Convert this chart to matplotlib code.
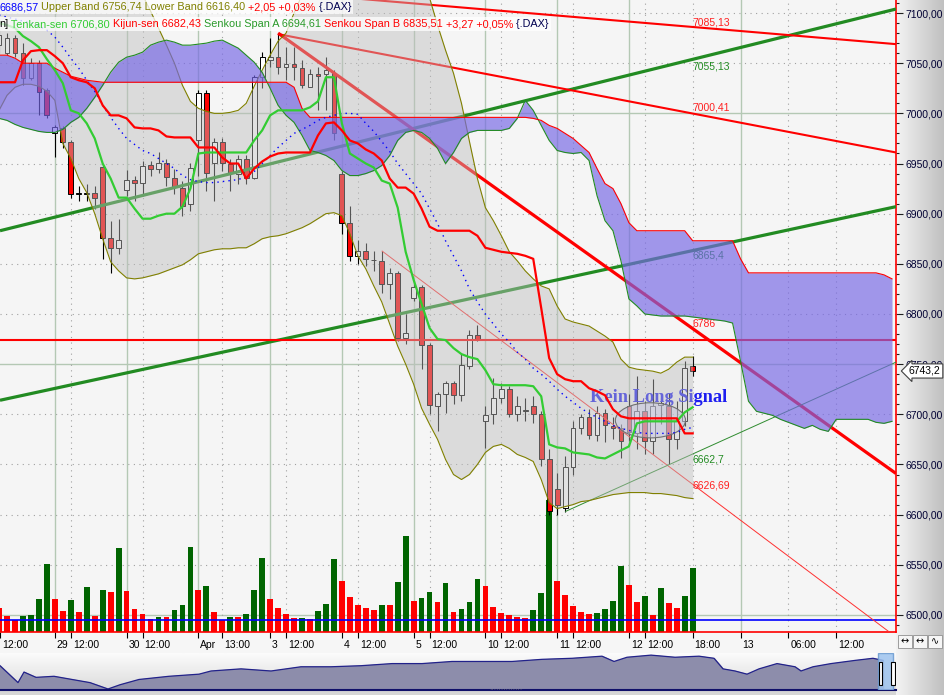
import numpy as np
import matplotlib
matplotlib.use("Agg")
import matplotlib.pyplot as plt
from matplotlib.patches import Ellipse, Rectangle
from matplotlib.colors import LinearSegmentedColormap
from matplotlib.transforms import blended_transform_factory, ScaledTranslation
from matplotlib.offsetbox import TextArea, HPacker, AnchoredOffsetbox

plt.rcParams["font.family"] = ["Liberation Sans", "DejaVu Sans"]

# ---- DAX Stundenkerzen, Index -1 .. 86 (9 Kerzen pro Tag) ----
idx = np.arange(-1, 87)
opens = [7068, 7060, 7075, 7060, 7035, 7050, 7023, 6980, 6985, 6971, 6920, 6920, 6921, 6947, 6876, 6866,
         6924, 6934, 6931, 6949, 6945, 6951, 6936, 6926, 6910, 6973, 7020, 6951, 6971, 6950, 6940, 6955,
         6936, 7036, 7053, 7056, 7046, 7049, 7045, 7026, 7039, 7039, 7040, 6940, 6891, 6858, 6863, 6854,
         6853, 6830, 6841, 6776, 6816, 6827, 6769, 6708, 6720, 6731, 6719, 6748, 6779, 6693, 6700, 6716,
         6725, 6700, 6703, 6708, 6700, 6655, 6626, 6607, 6647, 6686, 6697, 6679, 6701, 6688, 6686, 6708,
         6681, 6703, 6673, 6709, 6708, 6675, 6693, 6748]
highs = [7085, 7080, 7078, 7070, 7055, 7053, 7025, 6988, 6987, 6973, 6928, 6930, 6928, 6949, 6893, 6895,
         6944, 6938, 6953, 6953, 6961, 6955, 6945, 6933, 6951, 7023, 7023, 6975, 6975, 6955, 6958, 6958,
         7038, 7061, 7075, 7080, 7066, 7066, 7053, 7044, 7046, 7056, 7043, 6943, 6908, 6874, 6871, 6863,
         6863, 6846, 6843, 6800, 6833, 6829, 6771, 6722, 6733, 6733, 6760, 6784, 6789, 6708, 6736, 6731,
         6728, 6718, 6716, 6718, 6703, 6665, 6641, 6658, 6693, 6700, 6705, 6708, 6705, 6697, 6690, 6720,
         6738, 6713, 6735, 6716, 6721, 6713, 6753, 6758]
lows = [7060, 7058, 7056, 7028, 7033, 6998, 6995, 6956, 6965, 6916, 6913, 6913, 6905, 6855, 6841, 6860,
        6918, 6913, 6918, 6938, 6941, 6928, 6920, 6898, 6903, 6938, 6923, 6913, 6943, 6923, 6930, 6930,
        6935, 7025, 7046, 7039, 7033, 7033, 7025, 7026, 7003, 7003, 6973, 6880, 6853, 6850, 6848, 6843,
        6821, 6815, 6773, 6770, 6813, 6745, 6700, 6683, 6701, 6710, 6713, 6745, 6773, 6666, 6690, 6711,
        6697, 6693, 6693, 6691, 6648, 6600, 6600, 6603, 6640, 6680, 6675, 6673, 6672, 6675, 6656, 6673,
        6665, 6660, 6660, 6690, 6650, 6665, 6688, 6738]
closes = [7078, 7075, 7060, 7035, 7050, 7021, 6998, 6986, 6971, 6920, 6921, 6921, 6916, 6876, 6866, 6874,
          6934, 6931, 6948, 6945, 6951, 6937, 6927, 6908, 6946, 7020, 6941, 6971, 6951, 6941, 6955, 6936,
          7036, 7056, 7056, 7046, 7049, 7046, 7028, 7039, 7037, 7043, 6980, 6891, 6858, 6863, 6855, 6854,
          6830, 6841, 6776, 6781, 6827, 6769, 6709, 6720, 6731, 6719, 6749, 6779, 6775, 6699, 6716, 6725,
          6700, 6708, 6704, 6700, 6655, 6604, 6610, 6647, 6686, 6697, 6679, 6701, 6689, 6686, 6673, 6682,
          6703, 6673, 6708, 6711, 6675, 6693, 6746, 6743]

# volumen (kontrakte) und farbe der balken
volumen = [24, 16, 12, 16, 17, 33, 68, 33, 21, 32, 20, 45, 16, 42, 40, 84, 41, 23, 18, 13, 15, 15, 22, 27,
           85, 42, 46, 20, 12, 15, 15, 18, 42, 74, 33, 24, 18, 14, 14, 13, 21, 28, 73, 51, 35, 27, 24, 22,
           27, 27, 50, 96, 31, 34, 40, 30, 49, 20, 23, 30, 53, 46, 25, 19, 17, 15, 14, 22, 39, 132, 51, 37,
           26, 20, 18, 19, 23, 31, 66, 47, 30, 36, 17, 44, 29, 24, 36, 64]
volumen = [v * 250 for v in volumen]
vol_farbe = "rrrggggrrgrgrgrgrrrrgrgggrgrrgrgggrrrrgrgggrrrrrgrggrggrgrgggrrrrrrgggrrrrrggggrrgrgrrgg"
vol_schnitt = 3000

# Bollinger Baender
bb_oben = [7190, 7180, 7170, 7162, 7158, 7155, 7150, 7150, 7160, 7158, 7155, 7150, 7148, 7145, 7140, 7135,
           7130, 7128, 7118, 7102, 7085, 7068, 7050, 7028, 7012, 7005, 7002, 7000, 7000, 7001, 7003, 7010,
           7027, 7043, 7058, 7072, 7080, 7100, 7118, 7130, 7138, 7143, 7147, 7150, 7150, 7150, 7150, 7150,
           7148, 7146, 7144, 7142, 7140, 7130, 7115, 7088, 7063, 7040, 7010, 6972, 6935, 6906, 6893, 6878,
           6862, 6853, 6843, 6835, 6828, 6825, 6808, 6795, 6792, 6790, 6788, 6783, 6778, 6772, 6755, 6747,
           6745, 6744, 6743, 6741, 6745, 6752, 6757, 6757]
bb_mitte = [7098, 7096, 7094, 7092, 7090, 7087, 7083, 7076, 7066, 7055, 7045, 7033, 7022, 7008, 6996, 6985,
            6975, 6969, 6963, 6960, 6955, 6950, 6945, 6938, 6934, 6932, 6931, 6931, 6932, 6933, 6934, 6937,
            6942, 6950, 6958, 6966, 6973, 6980, 6984, 6988, 6993, 6996, 6998, 7000, 7000, 6999, 6990, 6982,
            6972, 6962, 6950, 6940, 6930, 6920, 6905, 6890, 6873, 6858, 6843, 6825, 6812, 6800, 6790, 6780,
            6772, 6762, 6755, 6746, 6740, 6733, 6725, 6718, 6712, 6706, 6701, 6697, 6693, 6689, 6686, 6684,
            6682, 6681, 6681, 6681, 6681, 6682, 6685, 6687]
bb_unten = [7003, 7018, 7026, 7029, 7029, 7027, 7022, 7013, 6970, 6955, 6935, 6921, 6900, 6875, 6852, 6843,
            6836, 6835, 6836, 6838, 6840, 6843, 6846, 6849, 6854, 6860, 6862, 6864, 6865, 6865, 6866, 6866,
            6870, 6875, 6877, 6878, 6880, 6883, 6886, 6890, 6895, 6900, 6901, 6898, 6880, 6858, 6845, 6828,
            6812, 6790, 6768, 6750, 6730, 6706, 6690, 6675, 6655, 6640, 6635, 6640, 6650, 6662, 6668, 6670,
            6666, 6660, 6657, 6653, 6635, 6612, 6606, 6608, 6610, 6613, 6614, 6616, 6618, 6620, 6621, 6622,
            6622, 6622, 6621, 6621, 6620, 6619, 6617, 6616]

# Ichimoku
tenkan = [7090, 7088, 7085, 7077, 7072, 7066, 7054, 7043, 7030, 7003, 7000, 6990, 6975, 6950, 6935, 6916,
          6916, 6905, 6895, 6895, 6898, 6900, 6900, 6907, 6925, 6960, 6961, 6961, 6961, 6961, 6961, 6961,
          6973, 6983, 6998, 7003, 7003, 7003, 7003, 7006, 7012, 7036, 7036, 6990, 6960, 6955, 6950, 6946,
          6933, 6930, 6906, 6862, 6834, 6810, 6786, 6775, 6774, 6766, 6760, 6757, 6755, 6744, 6730, 6729,
          6729, 6729, 6729, 6728, 6718, 6670, 6667, 6666, 6662, 6661, 6660, 6657, 6656, 6660, 6664, 6668,
          6691, 6693, 6693, 6693, 6693, 6693, 6702, 6707]
kijun = [7031, 7031, 7031, 7053, 7062, 7063, 7063, 7057, 7050, 7036, 7033, 7031, 7025, 7008, 6998, 6998,
         6995, 6986, 6985, 6985, 6983, 6977, 6976, 6976, 6976, 6966, 6966, 6966, 6956, 6950, 6950, 6935,
         6945, 6952, 6957, 6960, 6961, 6961, 6961, 6961, 6978, 6990, 6991, 6983, 6973, 6970, 6964, 6960,
         6953, 6935, 6926, 6926, 6920, 6905, 6887, 6883, 6883, 6883, 6883, 6883, 6878, 6866, 6864, 6862,
         6861, 6860, 6858, 6855, 6806, 6756, 6740, 6735, 6733, 6733, 6726, 6723, 6719, 6705, 6698, 6696,
         6696, 6696, 6696, 6696, 6696, 6696, 6681, 6681]
# senkou spans, 26 perioden nach vorne verschoben (Index -1 .. 111)
senkou_idx = np.arange(-1, 112)
senkou_a = [6995, 6993, 6989, 6986, 6984, 6982, 6981, 6981, 6984, 6991, 6996, 7005, 7016, 7028, 7041, 7051,
            7056, 7058, 7061, 7068, 7071, 7073, 7071, 7068, 7068, 7069, 7070, 7072, 7073, 7069, 7065, 7058,
            7051, 7041, 7025, 7008, 6998, 6991, 6978, 6963, 6961, 6958, 6953, 6943, 6938, 6938, 6940, 6943,
            6948, 6958, 6973, 6981, 6983, 6981, 6975, 6965, 6950, 6961, 6975, 6981, 6983, 6983, 6983, 6983,
            6985, 6995, 7013, 7003, 6988, 6973, 6963, 6961, 6960, 6961, 6953, 6918, 6893, 6883, 6853, 6815,
            6808, 6800, 6799, 6798, 6798, 6798, 6798, 6797, 6796, 6795, 6794, 6793, 6791, 6753, 6713, 6703,
            6701, 6699, 6695, 6692, 6689, 6686, 6689, 6685, 6683, 6695, 6695, 6695, 6695, 6695, 6692, 6691,
            6693]
senkou_b = ([7058, 7058, 7055, 7050, 7050, 7050, 7050, 7045, 7041, 7037, 7035, 7033, 7032] + [7031] * 24 +
            [7026, 7005] + [6996] * 28 +
            [6995, 6993, 6988, 6985, 6980, 6975, 6968, 6961, 6945, 6930, 6925, 6910, 6891] + [6883] * 7 +
            [6873] * 6 + [6855] + [6841] * 17 + [6839, 6835])

# trendlinien: (x0, kurs0, x1, kurs1, farbe, breite)
trendlinien = [
    (-0.88, 6883, 111.5, 7104, "#228b22", 2.3),
    (-0.88, 6714, 111.5, 6907, "#228b22", 2.3),
    (34, 7080, 111.5, 6641, "#ff0000", 2.3),
    (34, 7121, 111.5, 7069, "#ff0000", 1.5),
    (34, 7079, 111.5, 6961, "#ff0000", 1.5),
    (47, 6863, 111.5, 6478, "#ff3030", 0.7),
    (70, 6603, 111.5, 6752, "#2e8b2e", 0.7),
]
linie_horizontal = 6774
linien_text = ["7085,13", "7055,13", "7000,41", "6865,4", "6786", "6662,7", "6626,69"]
linien_text_kurs = [7091, 7047, 7006, 6858, 6790, 6655, 6629]
linien_text_farbe = ["#ff2020", "#228b22", "#ff2020", "#228b22", "#ff2020", "#228b22", "#ff2020"]

# zeitachse
x_ticks = [-0.85, 6, 8, 15, 17, 24, 27, 33, 35, 42, 44, 51, 53, 60, 62, 69, 71, 78, 80, 86, 92, 98, 104]
x_labels = ["12:00", "29", "12:00", "30", "12:00", "Apr", "13:00", "3", "12:00", "4", "12:00", "5", "12:00",
            "10", "12:00", "11", "12:00", "12", "12:00", "18:00", "13", "06:00", "12:00"]
tag_linien = [6, 15, 24, 33, 42, 51, 60, 69, 78, 92]
mittag_linien = [8, 17, 27, 35, 44, 53, 62, 71, 80, 86, 98, 104]

# navigator (langfristiger verlauf)
nav_pos = [0, 9, 18, 24, 36, 54, 72, 90, 108, 120, 139, 169, 199, 211, 241, 271, 301, 331, 361, 392, 422,
           452, 482, 512, 542, 572, 602, 614, 627, 651, 675, 699, 714, 723, 735, 747, 759, 777, 795, 801,
           813, 831, 855, 873, 883]
nav_kurs = [6785, 6442, 6099, 6528, 6313, 6356, 6227, 6099, 5841, 6013, 6227, 6356, 6442, 6571, 6657, 6571,
            6742, 6742, 6785, 6871, 6871, 6957, 6957, 6957, 7043, 7086, 7171, 6957, 7128, 7214, 7128, 7171,
            7086, 6657, 6571, 6442, 6657, 6871, 6742, 6571, 6742, 6871, 7000, 7086, 7000]

W, H = 944, 695
XMIN, XMAX = -0.88, 111.5
YMIN, YMAX = 6483, 7113


def box(x0, y0, x1, y1):
    # pixel-rechteck (oben links) -> figure koordinaten
    return [x0 / W, 1 - y1 / H, (x1 - x0) / W, (y1 - y0) / H]


fig = plt.figure(figsize=(W / 100, H / 100), dpi=100)
fig.patch.set_facecolor("#f6f6f6")

# grauer verlauf rechts (preisachse)
grau = LinearSegmentedColormap.from_list("grau", ["#f3f3f3", "#c0c0c0"])
for b in [box(896, 0, 944, 632), box(896, 632, 944, 695)]:
    a = fig.add_axes(b, zorder=0)
    a.imshow(np.linspace(0, 1, 64)[None, :], cmap=grau, aspect="auto", extent=[0, 1, 0, 1])
    a.axis("off")

axv = fig.add_axes(box(0, 0, 896, 632), zorder=1)
ax = fig.add_axes(box(0, 0, 896, 632), zorder=2)
ax.patch.set_visible(False)
axv.set_facecolor("#f5f5f5")
for s in axv.spines.values():
    s.set_visible(False)
axv.set_xticks([])
axv.set_yticks([])

# gitter
trans_h = blended_transform_factory(axv.transAxes, ax.transData)
for p in range(6500, 7101, 50):
    if p % 250 == 0:
        axv.plot([0, 1], [p, p], transform=trans_h, color="#b4c8b4", lw=1, zorder=0.5)
    else:
        axv.plot([0, 1], [p, p], transform=trans_h, color="#a0a0a0", lw=0.8, ls=(0, (1, 4)), zorder=0.5)
for d in tag_linien:
    axv.axvline(d, color="#b4c8b4", lw=1, zorder=0.5)
for d in mittag_linien:
    axv.axvline(d, color="#a0a0a0", lw=0.8, ls=(0, (1, 4)), zorder=0.5)

# volumen
farben = ["#006400" if f == "g" else "#ff0000" for f in vol_farbe]
axv.bar(idx, volumen, width=0.72, color=farben, zorder=1)
axv.axhline(vol_schnitt, color="#0000ff", lw=1.2, zorder=2)
axv.set_xlim(XMIN, XMAX)
axv.set_ylim(0, 158000)

# kerzen
o = np.array(opens)
c = np.array(closes)
steigt = c >= o
ax.vlines(idx, lows, highs, color="black", lw=0.8, zorder=3)
ax.bar(idx, np.abs(c - o), bottom=np.minimum(o, c), width=0.6,
       color=np.where(steigt, "white", "#ff0000"), edgecolor="black", linewidth=0.7, zorder=3.1)

# trendlinien
for x0, p0, x1, p1, col, lw in trendlinien:
    ax.plot([x0, x1], [p0, p1], color=col, lw=lw, zorder=4, solid_capstyle="butt")
ax.axhline(linie_horizontal, color="#ff0000", lw=1.5, zorder=4)
for t, p, col in zip(linien_text, linien_text_kurs, linien_text_farbe):
    ax.text(86, p, t, color=col, fontsize=7.5, va="center", ha="left", zorder=4.2)

ax.text(73.1, 6717, "Kein Long Signal", fontfamily="Liberation Serif", fontweight="bold",
        fontsize=13.2, color="#1e1ef0", va="center", ha="left", zorder=4.5)

# bollinger
ax.fill_between(idx, bb_unten, bb_oben, color="#bdbdbd", alpha=0.45, lw=0, zorder=5)
ax.plot(idx, bb_oben, color="#808000", lw=0.8, zorder=5.5)
ax.plot(idx, bb_unten, color="#808000", lw=0.8, zorder=5.5)

# wolke
ax.fill_between(senkou_idx, senkou_a, senkou_b, color="#7667e6", alpha=0.67, lw=0, zorder=6)
ax.plot(senkou_idx, senkou_a, color="#228b22", lw=0.8, zorder=6.5)
ax.plot(senkou_idx, senkou_b, color="#ff0000", lw=0.8, zorder=6.5)

ax.add_patch(Ellipse((80.7, 6694), 8.8, 35, fc=(0.78, 0.78, 0.88, 0.5), ec="#707070", lw=0.8, zorder=6.8))

ax.plot(idx, bb_mitte, color="#0000ff", lw=1, ls=(0, (1, 3)), zorder=7)
ax.plot(idx, tenkan, color="#33cc33", lw=1.6, zorder=7)
ax.plot(idx, kijun, color="#ff0000", lw=1.6, zorder=7)

# achsen
ax.set_xlim(XMIN, XMAX)
ax.set_ylim(YMIN, YMAX)
ax.yaxis.tick_right()
ax.set_yticks(np.arange(6500, 7101, 50))
ax.set_yticklabels([f"{v},00" for v in range(6500, 7101, 50)])
ax.set_yticks(np.arange(6490, 7111, 10), minor=True)
ax.tick_params(axis="y", which="major", length=5, width=0.8, color="#202020", pad=2,
               labelsize=7.5, labelcolor="#000033")
ax.tick_params(axis="y", which="minor", length=2.5, width=0.8, color="#202020")
ax.set_xticks(x_ticks)
ax.set_xticklabels(x_labels, ha="left")
ax.tick_params(axis="x", length=4, width=0.8, pad=2, labelsize=7.5)
for lab in ax.get_xticklabels():
    lab.set_transform(lab.get_transform() + ScaledTranslation(2 / 100, 0, fig.dpi_scale_trans))
for s in ["top", "left"]:
    ax.spines[s].set_visible(False)
for s in ["right", "bottom"]:
    ax.spines[s].set_color("#ff0000")
    ax.spines[s].set_linewidth(1.2)

# aktueller kurs
ax.text(1.0145, 6743.2, "6743,2", transform=blended_transform_factory(ax.transAxes, ax.transData),
        ha="left", va="center", fontsize=7.5, color="black", zorder=30, clip_on=False,
        bbox=dict(boxstyle="larrow,pad=0.2", fc="white", ec="#404040", lw=0.8))


# legende oben
def legende(teile, y_px):
    kids = [TextArea(t, textprops=dict(color=col, fontsize=7.8)) for t, col in teile]
    zeile = HPacker(children=kids, align="baseline", pad=0, sep=0)
    lb = AnchoredOffsetbox(loc="upper left", child=zeile, pad=0.15, borderpad=0, frameon=True,
                           bbox_to_anchor=(-3 / 896, 1 - y_px / 632), bbox_transform=ax.transAxes)
    lb.patch.set(facecolor="white", alpha=0.75, edgecolor="none")
    lb.set_zorder(20)
    ax.add_artist(lb)


legende([("6686,57", "#0000ff"), (" Upper Band 6756,74 Lower Band 6616,40", "#808000"),
         (" +2,05 +0,03%", "#ff0000"), (" {.DAX}", "#000050")], 0)
legende([("n]", "black"), (" Tenkan-sen 6706,80", "#33cc33"), (" Kijun-sen 6682,43", "#ff0000"),
         (" Senkou Span A 6694,61", "#2a9a2a"), (" Senkou Span B 6835,51", "#ff0000"),
         (" +3,27 +0,05%", "#ff0000"), (" {.DAX}", "#000050")], 17)

# navigator unten
axn = fig.add_axes(box(0, 653, 896, 690), zorder=1)
nav_grau = LinearSegmentedColormap.from_list("n", ["#fbfbfb", "#dcdcdc"])
axn.imshow(np.linspace(0, 1, 32)[:, None], cmap=nav_grau, aspect="auto", extent=[0, 896, 5800, 7300], zorder=0)
axn.fill_between(nav_pos, nav_kurs, 5800, color="#8d8dab", zorder=1)
axn.plot(nav_pos, nav_kurs, color="#22228a", lw=0.9, zorder=2)
axn.add_patch(Rectangle((878, 5800), 15, 1500, fc="#9ec4ef", ec="#6a9ad0", alpha=0.85, zorder=3))
for hx in [878.5, 891]:
    axn.add_patch(Rectangle((hx, 6000), 3.5, 950, fc="white", ec="black", lw=0.8, zorder=4))
axn.set_xlim(0, 896)
axn.set_ylim(5800, 7300)
axn.set_xticks([])
axn.set_yticks([])
for s in ["top", "left", "right"]:
    axn.spines[s].set_visible(False)
axn.spines["bottom"].set_color("#10106a")
axn.spines["bottom"].set_linewidth(1.5)

fig.add_artist(Rectangle((0, 0), 896 / W, 5 / H, transform=fig.transFigure, color="#d6d6d6", zorder=0))
fig.text(506 / W, 0.5 / H, "\u00b7" * 14, fontsize=5, color="#707070", ha="center", va="bottom")

# kleine knoepfe rechts unten
for k, s in enumerate(["\u2194", "\u2194", "\u223f"]):
    x0 = 898 + k * 15
    fig.add_artist(Rectangle((x0 / W, 1 - 648 / H), 14 / W, 13 / H, transform=fig.transFigure,
                             fc="#f6f6f6", ec="#909090", lw=0.6, zorder=5))
    fig.text((x0 + 7) / W, 1 - 641.5 / H, s, ha="center", va="center", fontsize=7,
             family="DejaVu Sans", zorder=6)

fig.savefig("out.png", dpi=100)
